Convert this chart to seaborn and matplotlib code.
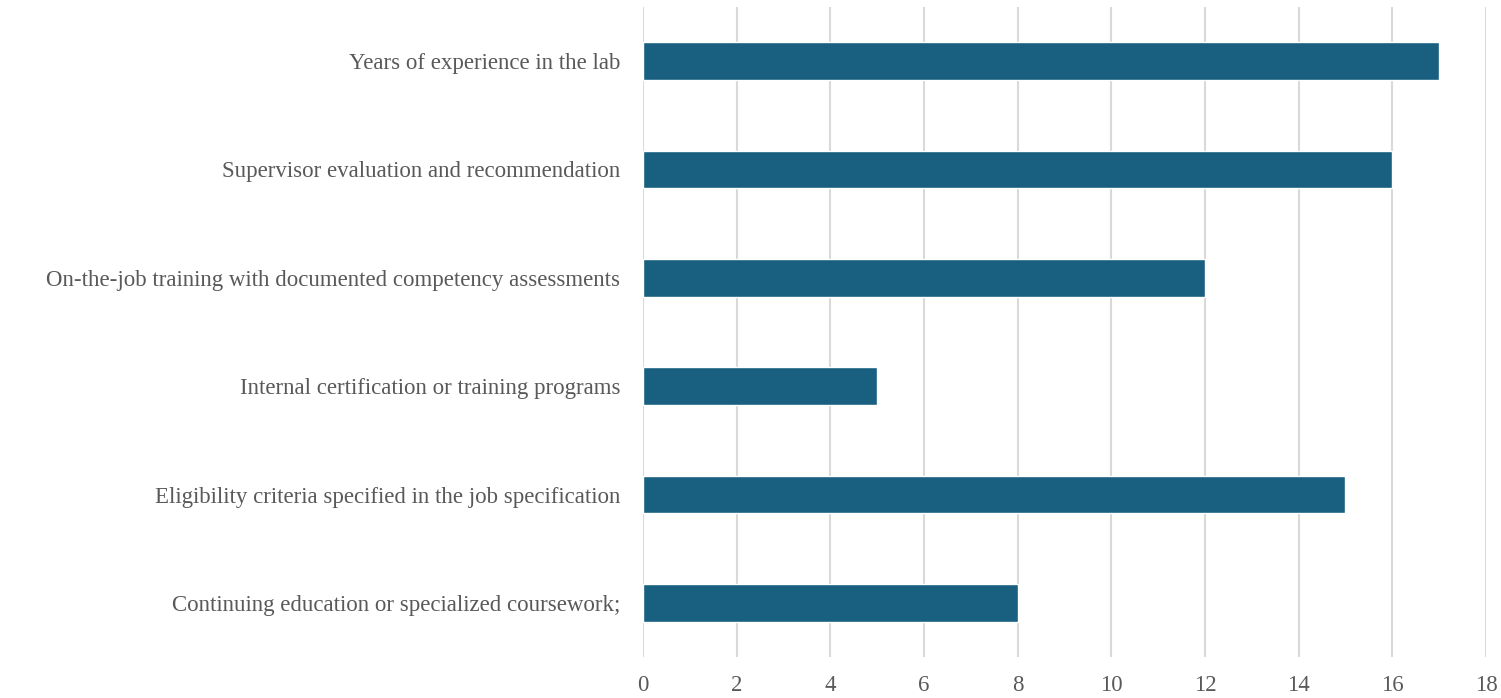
import numpy as np
import pandas as pd
import matplotlib
matplotlib.use('Agg')
import matplotlib.pyplot as plt
import seaborn as sns

# data
criteria = ['Years of experience in the lab',
            'Supervisor evaluation and recommendation',
            'On-the-job training with documented competency assessments',
            'Internal certification or training programs',
            'Eligibility criteria specified in the job specification',
            'Continuing education or specialized coursework;']
counts = [17, 16, 12, 5, 15, 8]
x_ticks = [0, 2, 4, 6, 8, 10, 12, 14, 16, 18]

df = pd.DataFrame({'criterion': criteria, 'count': counts})

sns.set_style('white')
plt.rcParams['font.family'] = ['Liberation Serif', 'DejaVu Serif']

fig = plt.figure(figsize=(15.01, 6.98), dpi=100)
ax = fig.add_axes([0.4284, 0.0587, 0.5616, 0.9313])

sns.barplot(data=df, x='count', y='criterion', color='#185f80', width=0.35,
            saturation=1, ax=ax)

ax.set_xlim(0, 18)
ax.set_xticks(x_ticks)
ax.xaxis.grid(True, color='#d9d9d9', linewidth=1.5)
ax.set_axisbelow(True)
for s in ax.spines.values():
    s.set_visible(False)
ax.set(xlabel='', ylabel='')
ax.tick_params(axis='both', length=0, labelsize=16.5, labelcolor='#595959')
ax.tick_params(axis='x', pad=13)
ax.tick_params(axis='y', pad=16.5)

fig.savefig('out.png', dpi=100)
